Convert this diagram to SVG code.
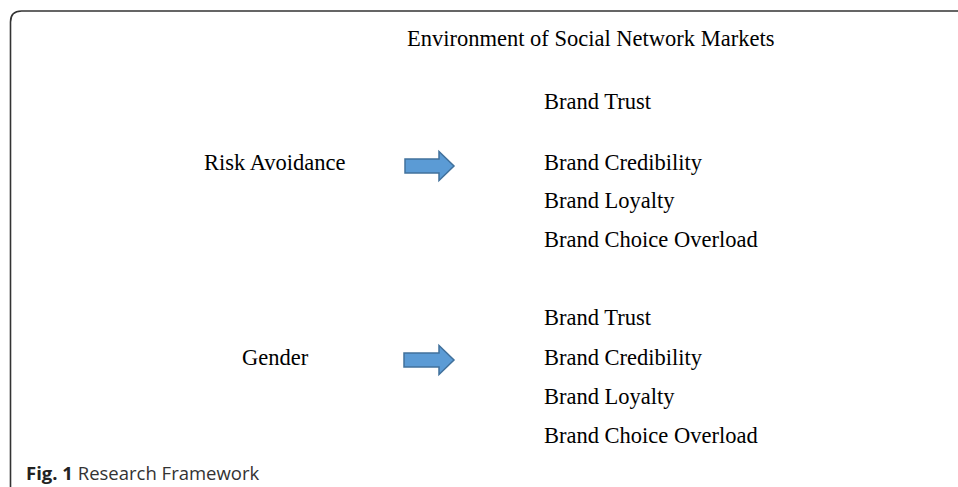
<svg xmlns="http://www.w3.org/2000/svg" width="958" height="487" viewBox="0 0 958 487">
<defs>
<style>
.t{font-family:"Liberation Serif","Times New Roman",serif;font-size:22.5px;fill:#000}
.arr{fill:#5b9bd5;stroke:#41719c;stroke-width:1.5;stroke-linejoin:miter}
.cap{font-family:"Open Sans","Noto Sans",sans-serif;font-size:18.5px;fill:#333}
</style>
</defs>
<rect width="958" height="487" fill="#fff"/>
<path d="M10.5,487 V22 Q10.5,11 21.5,11 H958" fill="none" stroke="#333" stroke-width="1.6"/>
<g id="title"><text class="t" x="407" y="46">Environment of Social Network Markets</text></g>
<g id="risk"><text class="t" x="204" y="169.5">Risk Avoidance</text></g>
<g id="gender"><text class="t" x="242" y="364.5">Gender</text></g>
<g id="group1">
<text class="t" x="544" y="109">Brand Trust</text>
<text class="t" x="544" y="170">Brand Credibility</text>
<text class="t" x="544" y="208">Brand Loyalty</text>
<text class="t" x="544" y="247">Brand Choice Overload</text>
</g>
<g id="group2">
<text class="t" x="544" y="325">Brand Trust</text>
<text class="t" x="544" y="365">Brand Credibility</text>
<text class="t" x="544" y="404">Brand Loyalty</text>
<text class="t" x="544" y="443">Brand Choice Overload</text>
</g>
<g id="connectors">
<path class="arr" d="M405,159 H439 V151.5 L454,166 L439,180.5 V173 H405 Z"/>
<path class="arr" d="M404,353 H439 V345.5 L454,360 L439,374.5 V367 H404 Z"/>
</g>
<g id="caption"><text class="cap" x="26" y="480"><tspan font-weight="bold" fill="#222">Fig. 1</tspan> Research Framework</text></g>
</svg>
